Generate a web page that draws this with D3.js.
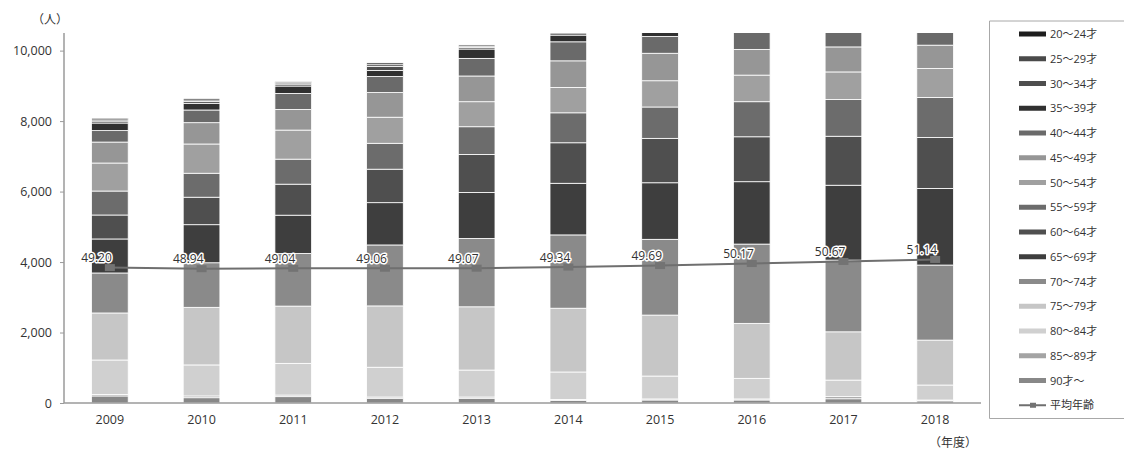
<!DOCTYPE html>
<html lang="ja">
<head>
<meta charset="utf-8">
<script src="https://cdn.jsdelivr.net/npm/d3@7"></script>
<style>
  html, body { margin: 0; padding: 0; background: #fff; }
  svg { display: block; }
  text { font-family: "Open Sans", "Noto Sans CJK JP", sans-serif; fill: #333; }
</style>
</head>
<body>
<svg id="chart" width="1124" height="458"></svg>
<script>
// Fiscal years on the category axis
const years = ["2009", "2010", "2011", "2012", "2013", "2014", "2015", "2016", "2017", "2018"];

// Age groups, listed top of stack first (legend order)
const ageGroups = ["20〜24才", "25〜29才", "30〜34才", "35〜39才", "40〜44才", "45〜49才", "50〜54才",
  "55〜59才", "60〜64才", "65〜69才", "70〜74才", "75〜79才", "80〜84才", "85〜89才", "90才〜"];

// Head counts per age group, one value per year (2009 → 2018)
const age20_24 = [45, 40, 30, 50, 35, 30, 30, 30, 30, 30];
const age25_29 = [35, 45, 35, 50, 35, 40, 40, 40, 40, 40];
const age30_34 = [55, 50, 55, 115, 45, 60, 50, 50, 50, 50];
const age35_39 = [215, 190, 210, 170, 265, 190, 200, 200, 200, 200];
const age40_44 = [325, 360, 455, 455, 500, 540, 475, 500, 480, 450];
const age45_49 = [595, 605, 585, 700, 730, 755, 780, 730, 710, 660];
const age50_54 = [795, 830, 825, 740, 710, 720, 745, 755, 785, 825];
const age55_59 = [680, 680, 710, 735, 785, 850, 890, 995, 1040, 1135];
const age60_64 = [680, 780, 880, 950, 1080, 1150, 1260, 1275, 1390, 1445];
const age65_69 = [965, 1080, 1085, 1200, 1305, 1465, 1605, 1770, 2125, 2175];
const age70_74 = [1135, 1265, 1495, 1730, 1940, 2080, 2150, 2250, 2035, 2130];
const age75_79 = [1335, 1635, 1625, 1740, 1795, 1810, 1730, 1560, 1370, 1275];
const age80_84 = [980, 880, 900, 845, 765, 780, 650, 585, 470, 425];
const age85_89 = [40, 50, 45, 35, 35, 30, 30, 30, 60, 25];
const age90up  = [200, 150, 180, 135, 135, 70, 85, 85, 120, 60];

// Average age per year
const averageAge = [49.20, 48.94, 49.04, 49.06, 49.07, 49.34, 49.69, 50.17, 50.67, 51.14];

// Y axis ticks
const yTicks = [0, 2000, 4000, 6000, 8000, 10000];

const seriesValues = [age20_24, age25_29, age30_34, age35_39, age40_44, age45_49, age50_54,
  age55_59, age60_64, age65_69, age70_74, age75_79, age80_84, age85_89, age90up];

const seriesColors = ["#1e1e1e", "#4a4a4a", "#4e4e4e", "#303030", "#6a6a6a", "#969696", "#a0a0a0",
  "#6c6c6c", "#4f4f4f", "#3e3e3e", "#8a8a8a", "#c6c6c6", "#d0d0d0", "#a4a4a4", "#888888"];

const svg = d3.select("#chart");
const plot = { left: 64, right: 981, top: 33, bottom: 403 };

// Table built for the stack layout
const table = years.map((yr, i) => {
  const row = { year: yr };
  ageGroups.forEach((g, k) => { row[g] = seriesValues[k][i]; });
  return row;
});

const x = d3.scaleBand().domain(years).range([plot.left, plot.right])
  .paddingInner(0.6).paddingOuter(0.3);
const y = d3.scaleLinear().domain([0, 10500]).range([plot.bottom, plot.top]);
// Secondary (hidden) scale for the average age line
const yAge = d3.scaleLinear().domain([17, 105]).range([plot.bottom, plot.top]);

const color = d3.scaleOrdinal().domain(ageGroups).range(seriesColors);

// Stack from the oldest group at the bottom upward
const stackKeys = ageGroups.slice().reverse();
const stacked = d3.stack().keys(stackKeys)(table);

svg.append("clipPath").attr("id", "plotClip")
  .append("rect")
  .attr("x", plot.left).attr("y", plot.top)
  .attr("width", plot.right - plot.left).attr("height", plot.bottom - plot.top);

const barsG = svg.append("g").attr("clip-path", "url(#plotClip)");
barsG.selectAll("g.layer")
  .data(stacked)
  .join("g")
  .attr("class", "layer")
  .attr("fill", d => color(d.key))
  .selectAll("rect")
  .data(d => d)
  .join("rect")
  .attr("x", d => x(d.data.year))
  .attr("width", x.bandwidth())
  .attr("y", d => y(d[1]))
  .attr("height", d => y(d[0]) - y(d[1]))
  .attr("stroke", "#ffffff")
  .attr("stroke-width", 0.8);

// Y axis
const yAxis = d3.axisLeft(y).tickValues(yTicks).tickSize(4).tickPadding(8)
  .tickFormat(d3.format(","));
const yAxisG = svg.append("g").attr("transform", `translate(${plot.left},0)`).call(yAxis);
yAxisG.select(".domain").attr("stroke", "#9a9a9a").attr("stroke-width", 1.5)
  .attr("d", `M0,${plot.top}V${plot.bottom}`);
yAxisG.selectAll(".tick line").attr("stroke", "#9a9a9a");
yAxisG.selectAll(".tick text").attr("font-size", 12.5).attr("fill", "#2e2e2e")
  .attr("font-family", "'Open Sans', sans-serif");

// X axis
const xAxis = d3.axisBottom(x).tickSize(0).tickPadding(12);
const xAxisG = svg.append("g").attr("transform", `translate(0,${plot.bottom})`).call(xAxis);
xAxisG.select(".domain").attr("stroke", "#9a9a9a").attr("stroke-width", 1.5)
  .attr("d", `M${plot.left},0H${plot.right}`);
xAxisG.selectAll(".tick text").attr("font-size", 12.5).attr("fill", "#2e2e2e")
  .attr("font-family", "'Open Sans', sans-serif");

// Axis unit captions
svg.append("text").attr("x", 50).attr("y", 24).attr("text-anchor", "middle")
  .attr("font-size", 12).attr("font-family", "'Noto Sans CJK JP', sans-serif").text("（人）");
svg.append("text").attr("x", 953).attr("y", 447).attr("text-anchor", "middle")
  .attr("font-size", 12).attr("font-family", "'Noto Sans CJK JP', sans-serif").text("（年度）");

// Average age line
const cx = i => x(years[i]) + x.bandwidth() / 2;
const line = d3.line().x((d, i) => cx(i)).y(d => yAge(d));
svg.append("path").datum(averageAge)
  .attr("d", line).attr("fill", "none")
  .attr("stroke", "#6f6f6f").attr("stroke-width", 2);

svg.selectAll("rect.marker").data(averageAge).join("rect")
  .attr("class", "marker")
  .attr("x", (d, i) => cx(i) - 5).attr("y", d => yAge(d) - 3.5)
  .attr("width", 10).attr("height", 7)
  .attr("fill", "#737373");

svg.selectAll("text.avg").data(averageAge).join("text")
  .attr("class", "avg")
  .attr("x", (d, i) => cx(i) + 2).attr("y", d => yAge(d) - 5.5)
  .attr("text-anchor", "end").attr("font-size", 12)
  .attr("stroke", "#fff").attr("stroke-width", 3).attr("paint-order", "stroke")
  .attr("stroke-linejoin", "round")
  .attr("fill", "#3a3a3a")
  .text(d => d.toFixed(2));

// Legend
const legend = svg.append("g");
legend.append("path")
  .attr("d", "M1125,21H989.5V418.5H1125")
  .attr("fill", "#fff").attr("stroke", "#a8a8a8").attr("stroke-width", 1);

const legendItems = ageGroups.concat(["平均年齢"]);
const ly = i => 34 + i * 24.75;
legendItems.forEach((name, i) => {
  const g = legend.append("g").attr("transform", `translate(0,${ly(i)})`);
  if (i < ageGroups.length) {
    g.append("rect").attr("x", 1019).attr("y", -2.5).attr("width", 27).attr("height", 5)
      .attr("fill", color(name));
  } else {
    g.append("line").attr("x1", 1019).attr("x2", 1046).attr("y1", 0).attr("y2", 0)
      .attr("stroke", "#6f6f6f").attr("stroke-width", 2);
    g.append("rect").attr("x", 1030).attr("y", -2.5).attr("width", 6).attr("height", 5)
      .attr("fill", "#737373");
  }
  g.append("text").attr("x", 1050).attr("y", 4).attr("font-size", 11)
    .attr("fill", "#333").text(name);
});
</script>
</body>
</html>
